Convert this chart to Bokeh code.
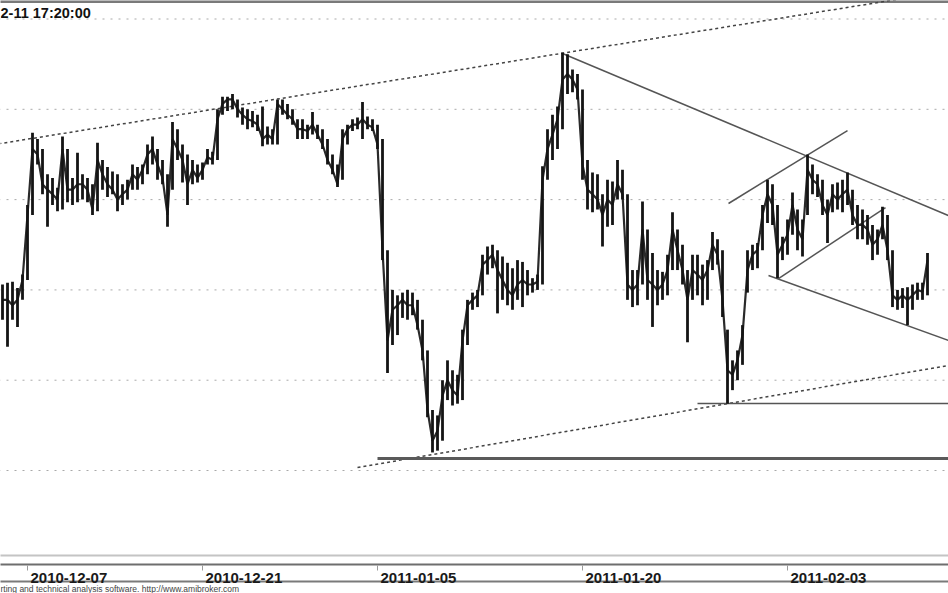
from bokeh.plotting import figure
from bokeh.models import Range1d, ColumnDataSource
from bokeh.core.properties import value
from bokeh.embed import file_html
from bokeh.resources import INLINE

# ---- price bars (bar index = position in the lists) ----
high = [
    80.6, 80.8, 80.9, 80.2, 81.7, 89.4, 97.4, 96.7, 95.6, 92.8,
    92.4, 91.3, 97.0, 95.6, 92.4, 95.2, 92.8, 92.4, 91.7, 96.3,
    94.4, 93.6, 93.1, 92.8, 91.7, 92.2, 93.9, 93.6, 93.9, 96.1,
    97.0, 95.6, 94.4, 92.8, 98.6, 97.8, 96.1, 95.0, 94.4, 93.9,
    94.1, 95.6, 95.3, 100.0, 101.4, 101.4, 101.7, 101.1, 100.2, 100.0,
    99.8, 99.4, 100.3, 98.1, 97.8, 101.1, 101.1, 100.6, 100.0, 98.9,
    98.9, 98.3, 99.7, 98.3, 97.8, 96.7, 95.0, 93.9, 97.8, 98.3,
    98.9, 99.1, 100.8, 99.2, 98.9, 98.3, 96.7, 84.4, 80.0, 79.4,
    79.7, 80.0, 79.7, 78.9, 76.7, 73.3, 66.7, 66.1, 70.0, 72.2,
    71.1, 70.6, 75.6, 78.9, 79.7, 80.0, 83.9, 84.8, 85.0, 84.4,
    83.7, 83.0, 82.4, 83.3, 83.1, 82.2, 81.3, 81.7, 93.7, 97.8,
    99.4, 100.3, 106.3, 106.1, 104.4, 103.9, 102.2, 94.4, 93.0, 92.8,
    90.6, 92.2, 92.0, 94.4, 93.3, 90.6, 82.2, 82.2, 89.8, 86.7,
    84.1, 82.2, 82.0, 83.9, 88.6, 86.7, 85.0, 82.2, 83.9, 83.9,
    82.8, 83.3, 86.4, 85.6, 84.4, 75.6, 72.2, 73.3, 76.1, 84.4,
    85.0, 85.2, 89.4, 92.2, 91.7, 89.4, 85.9, 87.8, 90.8, 88.9,
    87.8, 95.0, 93.9, 92.8, 92.2, 90.0, 91.7, 91.9, 92.2, 93.0,
    91.1, 89.4, 88.9, 88.3, 87.2, 86.7, 89.2, 88.3, 84.4, 80.0,
    80.2, 80.3, 80.6, 80.8, 80.8, 84.1,
]
low = [
    76.7, 73.7, 76.7, 75.9, 78.9, 81.1, 88.3, 93.9, 90.6, 87.0,
    89.4, 88.7, 88.9, 89.7, 89.4, 89.7, 90.0, 89.7, 88.3, 88.7,
    91.1, 90.3, 90.6, 88.7, 89.4, 90.0, 91.1, 91.1, 91.7, 92.8,
    93.9, 92.2, 91.7, 87.0, 91.1, 94.4, 91.9, 89.4, 91.7, 91.9,
    92.2, 93.9, 93.9, 94.4, 99.4, 99.8, 100.0, 99.1, 98.3, 97.8,
    98.0, 97.6, 95.9, 96.1, 96.1, 96.1, 99.4, 98.9, 98.3, 96.7,
    96.7, 96.7, 97.2, 96.7, 95.6, 93.9, 92.8, 91.4, 92.2, 96.1,
    97.6, 97.8, 96.7, 97.8, 97.6, 95.6, 83.3, 70.8, 73.9, 75.0,
    76.9, 76.7, 77.2, 75.6, 72.2, 65.9, 62.0, 62.2, 63.3, 67.8,
    67.2, 67.4, 67.8, 73.9, 77.8, 78.1, 79.4, 81.7, 82.4, 77.4,
    78.9, 78.3, 77.8, 78.9, 78.1, 79.4, 79.7, 80.0, 80.6, 92.2,
    94.4, 95.6, 97.8, 101.7, 101.9, 101.1, 92.2, 88.9, 88.6, 88.9,
    84.8, 87.0, 87.2, 90.0, 90.0, 78.9, 78.1, 78.3, 80.6, 78.9,
    75.9, 78.3, 78.9, 79.4, 82.2, 82.2, 80.6, 74.2, 78.9, 79.4,
    78.3, 78.9, 82.2, 82.8, 77.0, 67.4, 68.9, 70.0, 71.7, 79.7,
    82.2, 82.4, 84.4, 87.4, 87.2, 81.3, 83.3, 83.9, 86.1, 84.4,
    83.7, 88.3, 90.6, 90.3, 88.3, 85.2, 88.6, 88.9, 88.6, 89.4,
    87.2, 85.6, 85.6, 85.0, 83.3, 83.9, 85.6, 83.3, 78.1, 77.8,
    78.0, 76.1, 77.8, 78.9, 78.9, 79.4,
]
close = [
    78.9, 78.9, 78.3, 78.9, 81.1, 88.3, 95.6, 95.0, 91.7, 91.1,
    90.6, 90.0, 95.6, 91.1, 91.1, 91.7, 91.7, 91.1, 88.9, 94.4,
    92.8, 91.7, 91.1, 90.0, 90.6, 91.1, 92.8, 92.2, 93.3, 95.0,
    95.6, 93.9, 92.4, 88.3, 96.7, 95.6, 94.4, 91.7, 93.3, 92.4,
    93.3, 94.7, 94.4, 98.9, 100.6, 101.1, 101.1, 100.0, 99.4, 98.9,
    98.7, 98.3, 96.7, 97.2, 96.7, 100.6, 100.0, 99.4, 98.9, 97.8,
    97.8, 97.6, 98.3, 97.2, 96.1, 94.4, 93.3, 91.7, 96.7, 97.8,
    98.3, 98.3, 98.9, 98.3, 98.0, 96.1, 84.4, 74.4, 77.8, 78.3,
    78.9, 78.3, 78.3, 76.1, 73.3, 66.7, 63.3, 64.4, 68.3, 70.0,
    68.9, 68.3, 74.4, 78.3, 78.9, 79.4, 82.8, 83.3, 83.9, 82.2,
    81.1, 80.0, 79.4, 80.6, 81.1, 80.6, 80.6, 80.9, 92.2, 95.6,
    97.2, 98.9, 103.3, 103.9, 103.3, 102.2, 93.9, 91.1, 90.6, 90.0,
    88.3, 90.0, 89.4, 91.7, 90.6, 80.6, 80.0, 80.6, 86.7, 81.1,
    80.6, 80.0, 80.6, 82.2, 86.7, 84.4, 82.2, 78.9, 82.2, 81.7,
    81.1, 82.2, 85.0, 83.9, 78.9, 71.1, 70.6, 72.2, 75.0, 82.2,
    83.9, 84.4, 88.3, 90.6, 89.4, 83.9, 85.0, 86.1, 89.4, 86.7,
    85.6, 93.3, 92.2, 91.7, 89.4, 88.3, 90.6, 90.0, 90.6, 91.1,
    88.3, 87.2, 87.2, 86.7, 85.0, 85.6, 87.2, 84.4, 79.4, 78.9,
    79.4, 78.9, 79.4, 80.0, 79.8, 83.3,
]
bars = list(range(len(high)))

# ---- axis ----
tick_bars = [5, 40, 75, 116, 157]
tick_labels = ["2010-12-07", "2010-12-21", "2011-01-05", "2011-01-20", "2011-02-03"]
grid_levels = [60, 70, 80, 90, 100, 110]

# ---- trend lines (bar index, price) ----
dotted_x0 = [-2, 71]
dotted_y0 = [96.07, 60.33]
dotted_x1 = [190, 190]
dotted_y1 = [113.15, 71.71]

solid_x0 = [112, 145.2, 155.2, 153.2, 139]
solid_y0 = [106.18, 89.57, 81.26, 81.59, 67.42]
solid_x1 = [190, 169, 176.6, 190, 190]
solid_y1 = [88.05, 97.65, 89.12, 74.24, 67.42]

support_x0 = [75]
support_x1 = [190]
support_level = [61.33]

title_text = "2-11 17:20:00"
footer_text = "rting and technical analysis software. http://www.amibroker.com"

# ---- figure ----
W, H = 948, 593
XMIN, XMAX = -0.4, 189.2
YMIN, YMAX = 46.38, 112.05


def ys(py):
    # canvas pixel row (from top) -> price units
    return YMAX - py / H * (YMAX - YMIN)


def xs(px):
    return XMIN + px / W * (XMAX - XMIN)


p = figure(width=W, height=H, x_range=Range1d(XMIN, XMAX), y_range=Range1d(YMIN, YMAX),
           output_backend="svg", toolbar_location=None, min_border=0,
           x_axis_location=None, y_axis_location=None, outline_line_color=None,
           background_fill_color="white", border_fill_color="white")
p.xgrid.visible = False
p.ygrid.visible = False

# top frame border
p.segment(x0=[XMIN - 2], x1=[XMAX + 2], y0=[ys(1)], y1=[ys(1)],
          line_color="#7a7a7a", line_width=3)

# dotted horizontal grid
p.segment(x0=[XMIN - 2] * len(grid_levels), x1=[XMAX + 2] * len(grid_levels),
          y0=grid_levels, y1=grid_levels, line_color="#a9a9a9", line_width=1,
          line_dash="2 6")

# trend lines
p.segment(x0=dotted_x0, y0=dotted_y0, x1=dotted_x1, y1=dotted_y1,
          line_color="#444444", line_width=1.5, line_dash="3 3")
p.segment(x0=solid_x0, y0=solid_y0, x1=solid_x1, y1=solid_y1,
          line_color="#555555", line_width=1.5)
p.segment(x0=support_x0, y0=support_level, x1=support_x1, y1=support_level,
          line_color="#5a5a5a", line_width=3)

# price bars
src = ColumnDataSource(dict(bar=bars, high=high, low=low, close=close))
p.line(x="bar", y="close", source=src, line_color="#2a2a2a", line_width=2.2)
p.segment(x0="bar", x1="bar", y0="low", y1="high", source=src,
          line_color="#141414", line_width=2.8)

# bottom date axis band
band_y = [ys(555), ys(564), ys(581)]
band_col = ["#c4c4c4", "#6e6e6e", "#7a7a7a"]
band_w = [2, 2, 2]
p.segment(x0=[XMIN - 2] * 3, x1=[XMAX + 2] * 3, y0=band_y, y1=band_y,
          line_color=band_col, line_width=band_w)
p.segment(x0=tick_bars, x1=tick_bars, y0=[ys(565)] * len(tick_bars),
          y1=[ys(570)] * len(tick_bars), line_color="#9a9a9a", line_width=1)
p.text(x=[t + 0.6 for t in tick_bars], y=[ys(577)] * len(tick_bars), text=tick_labels,
       text_font=value("Liberation Sans"), text_font_style="bold",
       text_font_size="15px", text_color="#1a1a1a", text_align="left",
       text_baseline="alphabetic")

# title and footer
p.text(x=[xs(0)], y=[ys(4)], text=[title_text], text_font=value("Liberation Sans"),
       text_font_style="bold", text_font_size="14.5px", text_color="#111111",
       text_align="left", text_baseline="top")
p.text(x=[xs(0)], y=[ys(588)], text=[footer_text], text_font=value("Liberation Sans"),
       text_font_size="8.5px", text_color="#444444", text_align="left",
       text_baseline="alphabetic")

open("out.html", "w").write(file_html(p, INLINE))
